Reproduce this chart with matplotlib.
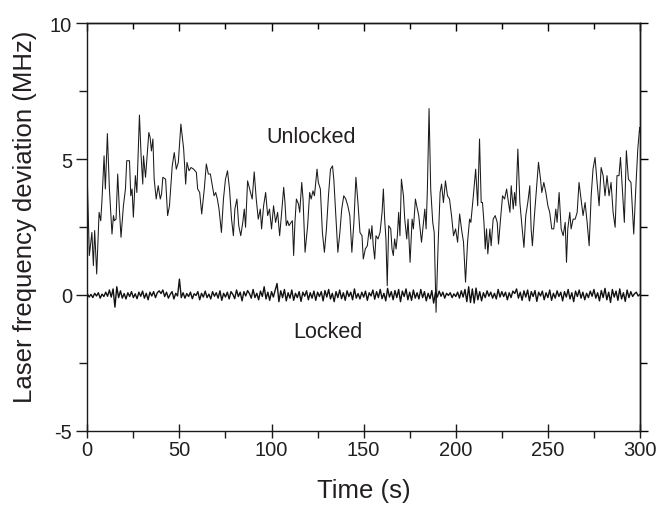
import matplotlib
matplotlib.use("Agg")
import matplotlib.pyplot as plt
from matplotlib.ticker import MultipleLocator

plt.rcParams['font.family'] = ['Liberation Sans', 'DejaVu Sans']
plt.rcParams['axes.unicode_minus'] = False

unlocked_t = [0, 1.1, 2.5, 3.3, 4.0, 5.1, 6.4, 7.3, 8.0, 9.1, 9.8, 10.9, 12.0, 13.4, 14.2, 14.7, 15.6,
              16.5, 17.4, 18.3, 19.6, 20.7, 21.4, 22.9, 23.6, 24.3, 25.0, 26.1, 26.9, 28.3, 29.2, 30.1,
              30.5, 31.6, 33.4, 34.1, 34.8, 35.6, 36.3, 37.4, 38.5, 39.6, 40.3, 41.0, 42.5, 43.6, 44.6,
              46.1, 47.2, 48.3, 49.4, 50.8, 52.3, 53.4, 54.1, 55.2, 56.3, 57.7, 59.2, 59.9, 61.0, 62.1,
              63.5, 64.6, 65.7, 66.8,
              68.8, 69.7, 70.6, 71.5, 72.8, 73.9, 75.0, 76.1, 77.2, 78.3, 79.3, 80.1, 81.2, 82.2, 83.3,
              84.4, 85.2, 85.9, 87.0, 88.1, 89.5, 90.6, 91.7, 92.8, 93.9, 94.6, 95.7, 96.8, 97.9, 98.9,
              100.0, 101.1, 102.2, 103.3, 104.4, 105.5, 106.6, 107.3, 108.0, 108.7, 109.5, 110.6, 111.3,
              112.0, 112.7, 113.5, 114.6, 115.3, 116.4, 117.1, 118.2, 119.6, 120.7, 121.5, 122.5, 123.3,
              124.7, 125.4, 126.5, 127.6, 128.7, 129.8, 130.9, 132.0, 133.1, 133.8, 134.9, 136.0, 137.1,
              138.1, 139.2, 140.3, 141.4, 142.5,
              143.6, 144.7, 145.8, 146.9, 148.0, 149.1, 149.8, 150.9, 152.0, 153.0, 153.8, 154.5, 155.2,
              156.0, 156.7, 157.8, 158.9, 160.0, 160.7, 161.4, 162.1, 162.8, 163.6, 164.7, 165.4, 166.1,
              166.8, 167.6, 168.3, 169.0, 169.7, 170.5, 171.6, 172.3, 173.4, 174.1, 175.2, 176.3, 177.0,
              178.1, 178.8, 179.9, 181.4, 182.1, 183.2, 183.9, 184.6, 185.5, 186.4, 187.5, 188.3, 189.3,
              190.4, 191.5, 192.3, 193.3, 194.4, 195.5, 196.6, 197.7, 198.8, 199.9, 201.0, 202.1, 203.1,
              204.2, 205.3, 206.4, 207.5, 208.2, 209.7, 210.8, 211.9, 212.9,
              213.8, 214.5, 215.3, 216.0, 216.7, 217.4, 218.5, 219.2, 220.3, 221.4, 222.5, 223.2, 224.3,
              225.4, 226.5, 227.6, 228.6, 229.4, 230.1, 231.2, 231.9, 232.6, 233.7, 234.8, 235.9, 237.0,
              238.0, 239.1, 240.2, 240.9, 241.6, 242.7, 243.8, 244.9, 246.0, 246.7, 247.8, 248.9, 250.0,
              251.0, 252.1, 253.2, 254.3, 255.0, 256.1, 257.2, 258.3, 259.4, 260.1, 260.8, 261.9, 262.6,
              263.7, 264.8, 265.9, 266.9, 268.0, 269.1, 270.2, 271.3, 272.4, 273.5, 274.5, 275.6, 276.7,
              277.8, 278.9, 280.0, 281.0, 282.1, 283.2, 284.3, 285.4, 286.5, 287.5, 288.6, 289.4, 290.4,
              291.5, 292.6, 293.7, 295.1, 296.6, 297.7, 298.8, 299.8, 300.0]

unlocked_v = [4.26, 1.45, 2.3, 1.08, 2.37, 0.77, 3.04, 2.73, 3.53, 5.12, 3.9, 5.94, 3.9, 2.24, 2.92, 2.73, 2.79,
              4.45, 3.16, 2.12, 3.28, 3.9, 4.94, 4.94, 3.65, 3.9, 2.86, 4.39, 3.77, 6.62, 5.12, 4.08,
              5.12, 4.33, 5.98, 5.8, 5.3, 5.74, 4.26, 3.53, 4.02, 3.53, 3.71, 4.33, 4.26, 2.92, 3.28,
              4.75, 5.24, 4.63, 4.88, 6.29, 5.37, 4.08, 4.88, 4.57, 4.69, 4.63, 4.51, 3.9, 3.77, 2.98,
              3.9, 4.82, 4.45, 4.45,
              3.65, 3.77, 3.53, 3.16, 2.3, 3.53, 4.26, 4.57, 3.9, 2.79, 2.18, 3.16, 3.53, 2.55, 2.18,
              2.67, 3.16, 2.49, 4.2, 3.9, 3.53, 4.53, 3.53, 2.79, 3.16, 2.43, 3.28, 3.77, 2.92, 3.16,
              2.43, 3.28, 2.67, 3.04, 2.18, 3.04, 3.96, 3.4, 2.55, 2.73, 2.55, 2.67, 2.73,
              1.45, 2.67, 3.53, 3.35, 3.04, 4.14, 3.53, 1.57, 2.55, 3.77, 3.53, 3.83, 3.65,
              4.63, 4.14, 3.9, 2.3, 1.57, 2.43, 3.65, 4.63, 4.75, 4.26, 2.92, 1.57, 2.3,
              3.16, 3.65, 3.53, 3.28, 2.92,
              1.57, 2.67, 4.33, 3.4, 2.3, 2.18, 1.32, 1.69, 1.81, 2.43, 2.06, 2.55, 1.81,
              1.32, 2.18, 2.06, 2.3, 3.04, 3.9, 2.79, 2.06, 0.34, 2.55, 2.43, 1.69, 1.45,
              2.06, 1.69, 2.18, 3.04, 2.18, 4.26, 3.65, 2.79, 2.06, 2.79, 1.2, 2.79, 2.43,
              3.53, 3.28, 2.92, 1.94, 2.43, 3.16, 2.43, 3.9, 6.86, 3.9, 2.67, 2.3, -0.64,
              1.81, 3.77, 4.08, 3.4, 4.2, 3.65, 3.53, 2.92, 2.18, 2.43, 1.94, 2.98, 2.43,
              1.94, 0.47, 1.94, 2.79, 2.67, 3.77, 4.63, 3.28, 5.74,
              3.4, 3.4, 2.67, 1.69, 2.43, 1.51, 2.43, 1.81, 2.79, 2.92, 2.67, 1.87, 2.79,
              3.65, 3.53, 3.9, 3.4, 3.04, 4.02, 3.16, 3.77, 3.28, 5.37, 3.4, 2.55, 1.75,
              2.92, 3.4, 4.02, 2.43, 1.81, 2.92, 3.9, 4.88, 4.26, 3.77, 4.14, 3.77, 3.28,
              3.04, 2.43, 2.43, 3.16, 2.67, 3.77, 2.43, 2.18, 2.67, 1.2, 2.43, 3.04, 2.43,
              2.79, 2.79, 3.04, 4.14, 3.53, 2.92, 3.4, 2.67, 1.81, 3.65, 4.63, 5.06, 4.14,
              3.28, 4.69, 4.39, 3.65, 4.39, 3.65, 4.14, 3.04, 2.49, 4.39, 4.39, 5.06, 3.9,
              2.67, 5.31, 4.26, 4.14, 2.24, 3.9, 5.37, 6.16, 6.0]

locked_t = list(range(0, 301))
locked_v = [0.05, -0.08, 0.02, -0.1, 0.06, -0.04, 0.08, -0.12, 0.03, -0.06,
            0.1, -0.05, 0.18, -0.08, 0.22, -0.45, 0.3, -0.1, 0.15, -0.12,
            0.05, -0.15, 0.08, -0.06, 0.12, -0.1, 0.04, -0.14, 0.1, -0.05,
            0.14, -0.12, 0.06, -0.18, 0.1, -0.04, 0.12, -0.1, 0.08, 0.15,
            0.05, 0.18, -0.06, 0.1, -0.12, 0.02, 0.12, -0.15, 0.06, -0.04,
            0.58, -0.1, 0.08, -0.12, 0.05, -0.06, 0.1, -0.14, 0.04, -0.02,
            0.12, -0.18, 0.06, -0.08, 0.14, -0.1, 0.03, -0.15, 0.12, -0.05,
            0.08, -0.12, 0.15, -0.2, 0.06, -0.08, 0.1, -0.15, 0.12, 0.02,
            -0.14, 0.18, -0.06, 0.1, -0.22, 0.12, -0.04, 0.16, 0.05, -0.12,
            0.2, -0.1, 0.06, -0.18, 0.14, -0.06, 0.3, -0.15, 0.1, -0.2,
            0.12, -0.08, 0.18, 0.42, -0.25, 0.15, -0.1, 0.2, -0.22, 0.08,
            -0.12, 0.18, -0.2, 0.06, -0.1, 0.12, -0.24, 0.1, -0.05, 0.15,
            -0.18, 0.08, -0.12, 0.14, -0.2, 0.1, -0.06, 0.12, -0.22, 0.16,
            -0.08, 0.2, -0.15, 0.06, -0.25, 0.12, -0.1, 0.18, -0.14, 0.08,
            -0.2, 0.15, -0.06, 0.1, -0.18, 0.22, -0.12, 0.05, -0.15, 0.1,
            -0.08, 0.14, -0.2, 0.08, -0.04, 0.18, -0.16, 0.12, -0.1, 0.2,
            -0.14, 0.06, -0.22, 0.24, -0.08, 0.12, -0.18, 0.16, -0.1, 0.2,
            -0.25, 0.14, -0.06, 0.22, -0.18, 0.1, -0.2, 0.18, -0.12, 0.08,
            -0.15, 0.2, -0.1, 0.12, -0.22, 0.06, -0.14, 0.16, -0.3, 0.1,
            -0.08, 0.14, -0.05, 0.1, -0.12, 0.06, -0.02, 0.08, -0.1, 0.04,
            -0.06, 0.1, -0.12, 0.15, -0.08, 0.2, -0.25, 0.3, -0.28, 0.22,
            -0.3, 0.25, -0.18, 0.12, -0.22, 0.08, -0.1, 0.15, -0.05, 0.1,
            -0.12, 0.06, -0.15, 0.2, -0.08, 0.12, -0.06, 0.1, -0.18, 0.08,
            -0.1, 0.14, 0.05, 0.22, -0.12, 0.1, -0.2, 0.15, -0.08, 0.18,
            -0.22, 0.12, -0.06, 0.16, -0.24, 0.1, -0.04, 0.14, -0.18, 0.08,
            -0.1, 0.18, -0.2, 0.06, -0.12, 0.15, -0.06, 0.1, -0.22, 0.12,
            -0.08, 0.2, -0.15, 0.08, -0.25, 0.14, -0.06, 0.18, -0.12, 0.1,
            -0.18, 0.06, -0.1, 0.14, -0.05, 0.2, -0.12, 0.08, -0.22, 0.16,
            -0.1, 0.24, -0.18, 0.1, -0.28, 0.2, -0.08, 0.14, -0.2, 0.22,
            -0.15, 0.08, -0.24, 0.18, -0.1, 0.12, -0.06, 0.04, 0.1, -0.04,
            0.02]

x_ticks = [0, 50, 100, 150, 200, 250, 300]
y_ticks = [-5, 0, 5, 10]
x_label = "Time (s)"
y_label = "Laser frequency deviation (MHz)"

txt = '#231f20'
fig = plt.figure(figsize=(6.61, 5.06), dpi=100)
ax = fig.add_axes([87.3 / 661, 1 - 431.7 / 506, (640 - 87.3) / 661, (431.7 - 24.3) / 506])

ax.plot(unlocked_t, unlocked_v, color='#1a1a1a', lw=0.75)
ax.plot(locked_t, locked_v, color='#111111', lw=1.0)

ax.set_xlim(0, 300)
ax.set_ylim(-5, 10)
ax.set_xticks(x_ticks)
ax.set_yticks(y_ticks)
ax.xaxis.set_minor_locator(MultipleLocator(25))
ax.yaxis.set_minor_locator(MultipleLocator(2.5))

for s in ax.spines.values():
    s.set_linewidth(1.0)
    s.set_color('#1a1a1a')

ax.tick_params(axis='x', which='major', direction='inout', length=10, width=1.0,
               labelsize=14.5, colors='#1a1a1a', labelcolor=txt, pad=2)
ax.tick_params(axis='x', which='minor', direction='out', length=5, width=1.0, colors='#1a1a1a')
ax.tick_params(axis='y', which='major', direction='out', length=8, width=1.0,
               labelsize=14.5, colors='#1a1a1a', labelcolor=txt, pad=3)
ax.tick_params(axis='y', which='minor', direction='out', length=6, width=1.0, colors='#1a1a1a')

top = ax.secondary_xaxis('top')
top.set_xticks(x_ticks)
top.xaxis.set_minor_locator(MultipleLocator(25))
top.tick_params(which='major', direction='in', length=6, width=1.0, labeltop=False)
top.tick_params(which='minor', direction='in', length=4, width=1.0)
top.spines['top'].set_linewidth(1.0)

right = ax.secondary_yaxis('right')
right.set_yticks(y_ticks)
right.yaxis.set_minor_locator(MultipleLocator(2.5))
right.tick_params(which='major', direction='out', length=6, width=1.0, labelright=False)
right.tick_params(which='minor', direction='out', length=5, width=1.0)
right.spines['right'].set_linewidth(1.0)

ax.set_xlabel(x_label, fontsize=18.5, color=txt)
ax.set_ylabel(y_label, fontsize=18.5, color=txt)
ax.xaxis.set_label_coords(0.5, -0.117)
ax.yaxis.set_label_coords(-0.091, 0.527)

ax.text(121.3, 5.85, "Unlocked", fontsize=15.5, color=txt, ha='center', va='center')
ax.text(130.5, -1.36, "Locked", fontsize=15.5, color=txt, ha='center', va='center')

fig.savefig("out.png", dpi=100)
